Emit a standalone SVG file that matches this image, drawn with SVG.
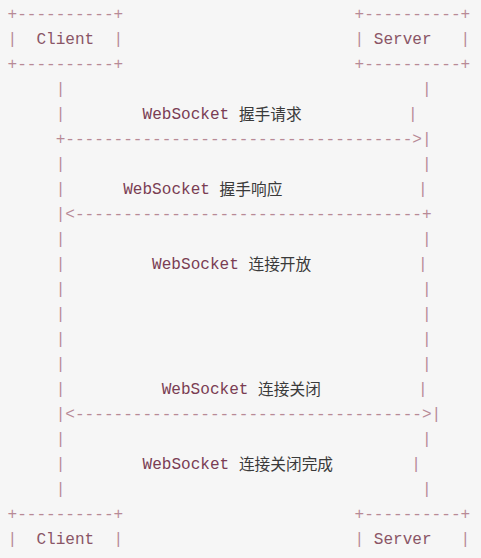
<svg xmlns="http://www.w3.org/2000/svg" width="481" height="558" viewBox="0 0 481 558">
<style>
.a{font-family:"Liberation Mono","DejaVu Sans Mono",monospace;font-size:16.07px;fill:#b88a96;white-space:pre}
.w{font-family:"Liberation Mono","DejaVu Sans Mono",monospace;font-size:16.07px;fill:#7a3d53;white-space:pre}
.n{fill:#8a5566}
.c{font-family:"Noto Sans CJK SC","Noto Sans",sans-serif;font-size:15.7px;fill:#3a3a3a}
</style>
<rect width="481" height="558" fill="#f6f6f6"/>
<g id="client-top">
<text class="a" x="7.5" y="19">+----------+</text>
<text class="a" x="7.5" y="44">|  <tspan class="n">Client</tspan>  |</text>
<text class="a" x="7.5" y="69">+----------+</text>
</g>
<g id="server-top">
<text class="a" x="354.5" y="19">+----------+</text>
<text class="a" x="354.5" y="44">| <tspan class="n">Server</tspan>   |</text>
<text class="a" x="354.5" y="69">+----------+</text>
</g>
<g id="connectors">
<text class="a" x="55.7" y="94">|</text><text class="a" x="422" y="94">|</text>
<text class="a" x="55.7" y="119">|</text><text class="a" x="407.9" y="119">|</text>
<text class="a" x="55.7" y="144">+------------------------------------&gt;|</text>
<text class="a" x="55.7" y="169">|</text><text class="a" x="422" y="169">|</text>
<text class="a" x="55.7" y="194">|</text><text class="a" x="417.9" y="194">|</text>
<text class="a" x="55.7" y="219">|&lt;------------------------------------+</text>
<text class="a" x="55.7" y="244">|</text><text class="a" x="422" y="244">|</text>
<text class="a" x="55.7" y="269">|</text><text class="a" x="417.9" y="269">|</text>
<text class="a" x="55.7" y="294">|</text><text class="a" x="422" y="294">|</text>
<text class="a" x="55.7" y="319">|</text><text class="a" x="422" y="319">|</text>
<text class="a" x="55.7" y="344">|</text><text class="a" x="422" y="344">|</text>
<text class="a" x="55.7" y="369">|</text><text class="a" x="422" y="369">|</text>
<text class="a" x="55.7" y="394">|</text><text class="a" x="417.9" y="394">|</text>
<text class="a" x="55.7" y="419">|&lt;------------------------------------&gt;|</text>
<text class="a" x="55.7" y="444">|</text><text class="a" x="422" y="444">|</text>
<text class="a" x="55.7" y="469">|</text><text class="a" x="411.2" y="469">|</text>
<text class="a" x="55.7" y="494">|</text><text class="a" x="422" y="494">|</text>
</g>
<g id="msg-handshake-request">
<text class="w" x="142.5" y="119">WebSocket</text><text class="c" x="238.9" y="120">握手请求</text>
</g>
<g id="msg-handshake-response">
<text class="w" x="123.2" y="194">WebSocket</text><text class="c" x="219.6" y="195">握手响应</text>
</g>
<g id="msg-open">
<text class="w" x="152.1" y="269">WebSocket</text><text class="c" x="248.5" y="270">连接开放</text>
</g>
<g id="msg-close">
<text class="w" x="161.7" y="394">WebSocket</text><text class="c" x="258.1" y="395">连接关闭</text>
</g>
<g id="msg-close-done">
<text class="w" x="142.5" y="469">WebSocket</text><text class="c" x="238.9" y="470">连接关闭完成</text>
</g>
<g id="client-bottom">
<text class="a" x="7.5" y="519">+----------+</text>
<text class="a" x="7.5" y="544">|  <tspan class="n">Client</tspan>  |</text>
</g>
<g id="server-bottom">
<text class="a" x="354.5" y="519">+----------+</text>
<text class="a" x="354.5" y="544">| <tspan class="n">Server</tspan>   |</text>
</g>
</svg>
